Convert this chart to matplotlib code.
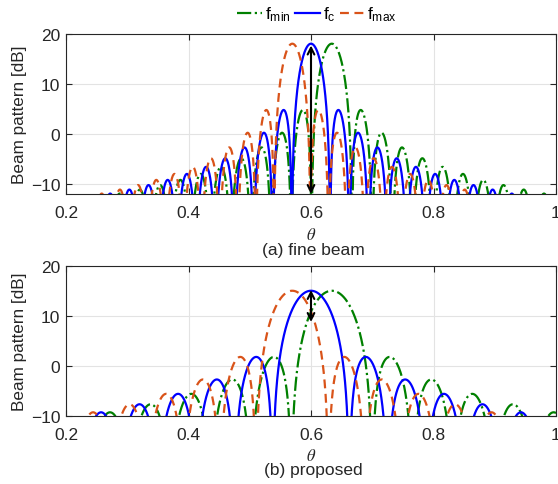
import numpy as np
import matplotlib.pyplot as plt

plt.rcParams['font.family'] = ['Liberation Sans', 'DejaVu Sans']
plt.rcParams['mathtext.fontset'] = 'stix'

# beam parameters
steer = 0.6                         # beam direction at f_c
freq_ghz = [26.5, 28.0, 29.5]       # f_min, f_c, f_max
n_fine = 64                         # 18 dB peak, lobe spacing 2/64
n_proposed = 32                     # 15 dB peak, lobe spacing 2/32
names = ['$\\mathregular{f_{min}}$', '$\\mathregular{f_c}$', '$\\mathregular{f_{max}}$']
colors = ['#008000', '#0000ff', '#d95319']
styles = ['-.', '-', (0, (4, 2.5))]

# arrows (top, bottom) in dB at the steering angle
arrow_fine = (17.7, -12)
arrow_proposed = (15.2, 8.8)

u = np.linspace(0.2, 1.0, 4001)


def pattern(n, f):
    r = f / freq_ghz[1]
    psi = np.pi * (r * u - steer)
    den = n * np.sin(psi / 2)
    small = np.abs(den) < 1e-12
    af = np.where(small, 1.0, np.sin(n * psi / 2) / np.where(small, 1.0, den))
    return 10 * np.log10(n * np.maximum(af ** 2, 1e-8))


W, H = 558, 485
fig = plt.figure(figsize=(W / 100, H / 100), dpi=100)


def box(l, t, r, b):
    return [l / W, 1 - b / H, (r - l) / W, (b - t) / H]


panels = [
    (box(66, 35, 556, 195), n_fine, (-12, 20), arrow_fine, '(a) fine beam', 235, 251),
    (box(66, 267, 556, 417), n_proposed, (-10, 20), arrow_proposed, '(b) proposed', 456, 471),
]

for rect, n, ylim, arr, caption, y_theta, y_cap in panels:
    ax = fig.add_axes(rect)
    for f, lab, c, ls in zip(freq_ghz, names, colors, styles):
        ax.plot(u, pattern(n, f), color=c, linestyle=ls, lw=1.6, label=lab)
    ax.annotate('', xy=(steer, arr[1]), xytext=(steer, arr[0]),
                arrowprops=dict(arrowstyle='<->', color='k', lw=1.5,
                                mutation_scale=12, shrinkA=0, shrinkB=0))
    ax.set_xlim(0.2, 1.0)
    ax.set_ylim(*ylim)
    ax.set_xticks([0.2, 0.4, 0.6, 0.8, 1.0])
    ax.set_xticklabels(['0.2', '0.4', '0.6', '0.8', '1'])
    ax.set_yticks([-10, 0, 10, 20])
    ax.grid(True, color='#e3e3e3', lw=0.8)
    ax.set_axisbelow(True)
    for s in ax.spines.values():
        s.set_color('#262626')
        s.set_linewidth(0.8)
    ax.tick_params(direction='in', length=4, width=0.8, top=True, right=True,
                   labelsize=12.5, colors='#262626')
    ax.tick_params(axis='x', pad=8)
    ax.tick_params(axis='y', pad=4)
    ax.set_ylabel('Beam pattern [dB]', fontsize=12.3, color='#262626', labelpad=3)
    fig.text((66 + 556) / 2 / W, 1 - y_theta / H, '$\\theta$', fontsize=12,
             ha='center', va='center', color='#262626')
    fig.text(313 / W, 1 - y_cap / H, caption, fontsize=12.5,
             ha='center', va='center', color='#262626')
    if n == n_fine:
        handles, labels = ax.get_legend_handles_labels()

fig.legend(handles, labels, loc='center', bbox_to_anchor=(317 / W, 1 - 15 / H),
           ncol=3, frameon=False, fontsize=12.5, handlelength=1.45,
           handletextpad=0.15, columnspacing=0.25, borderpad=0)

fig.savefig('out.png', dpi=100)
